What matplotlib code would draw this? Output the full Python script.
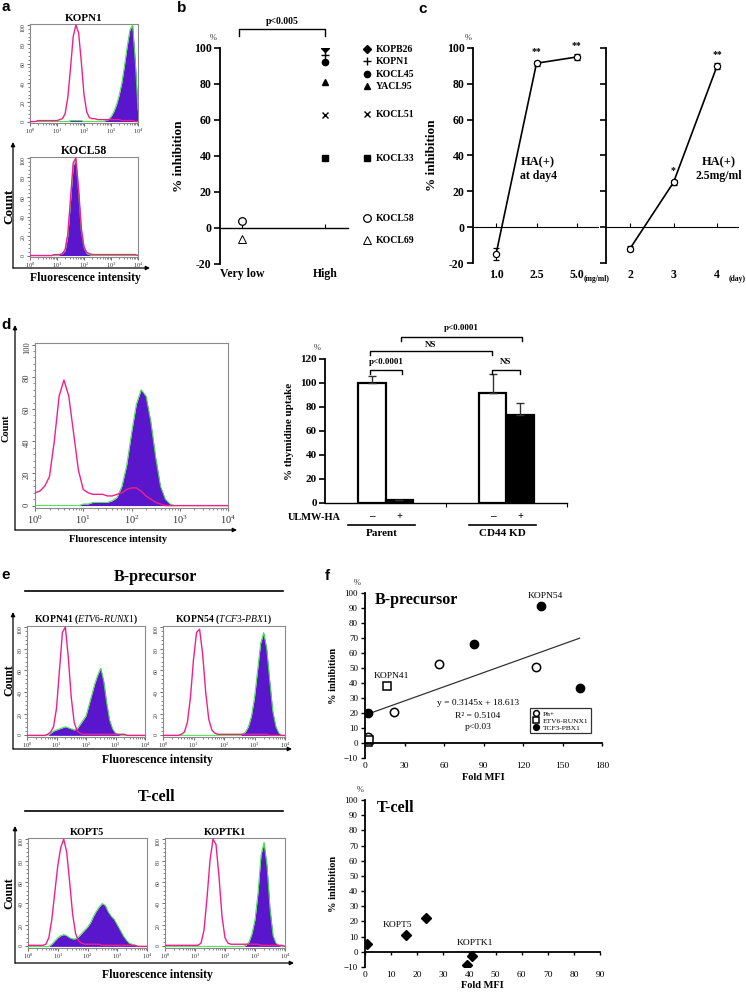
import numpy as np
import matplotlib
matplotlib.use('Agg')
import matplotlib.pyplot as plt
from matplotlib.ticker import MultipleLocator, LogLocator, NullFormatter

W, H = 746, 998
plt.rcParams['font.family'] = ['Liberation Serif', 'DejaVu Sans']
plt.rcParams['mathtext.fontset'] = 'custom'
plt.rcParams['mathtext.rm'] = 'Liberation Serif'
plt.rcParams['mathtext.it'] = 'Liberation Serif:italic'
plt.rcParams['mathtext.bf'] = 'Liberation Serif:bold'

PURPLE = '#5a16cc'
GREEN = '#3ee63e'
MAGENTA = '#f0208a'

# ---------------- data ----------------
decade_bins = np.linspace(0.0, 4.0, 41)   # log10 fluorescence grid

a_kopn1_ctrl = [0,0,0,1,1,1,1,1,1,1, 1,2,3,8,25,55,88,100,92,62, 28,10,4,3,3,2,2,2,2,2, 2,2,2,2,1,1,1,1,1,0, 0]
a_kopn1_stain = [0,0,0,0,0,0,0,0,0,0, 0,0,0,0,0,1,1,1,1,1, 0,0,0,0,0,0,0,0,1,2, 5,10,17,27,40,58,78,95,100,62, 12]
a_kocl58_ctrl = [0,0,0,0,0,0,0,0,0,1, 1,1,2,6,22,58,95,100,68,28, 9,3,2,1,1,1,1,1,1,1, 1,1,1,1,1,1,1,1,1,1, 0]
a_kocl58_stain = [0,0,0,0,0,0,0,0,0,0, 0,1,2,5,20,55,92,98,65,25, 8,2,1,0,0,0,0,0,0,0, 0,0,0,0,0,0,0,0,0,0, 0]
d_ctrl = [8,9,12,18,40,68,78,68,45,22, 10,8,7,7,7,6,6,7,8,10, 11,11,9,6,4,2,1,0,0,0, 0,0,0,0,0,0,0,0,0,0, 0]
d_stain = [0,0,0,0,0,0,0,0,0,0, 1,1,2,2,2,2,3,5,12,25, 45,63,72,68,52,30,12,4,1,0, 0,0,0,0,0,0,0,0,0,0, 0]
e_kopn41_ctrl = [0,0,0,0,0,0,0,1,3,8, 25,60,95,100,72,35,12,4,2,1, 1,1,1,1,1,1,1,1,1,1, 1,1,1,1,0,0,0,0,0,0, 0]
e_kopn41_stain = [0,0,0,0,0,0,0,0,2,4, 5,6,7,8,7,6,5,6,10,14, 18,28,38,48,56,62,50,30,14,6, 2,1,0,0,0,0,0,0,0,0, 0]
e_kopn54_ctrl = [0,0,0,0,0,0,1,3,12,35, 70,95,98,75,40,15,5,2,1,1, 1,1,1,1,1,1,1,1,1,1, 1,1,1,1,1,0,0,0,0,0, 0]
e_kopn54_stain = [0,0,0,0,0,0,0,0,0,0, 0,0,0,0,0,0,0,0,0,0, 0,0,0,0,0,0,1,3,8,18, 35,60,85,95,80,50,22,8,2,0, 0]
t_kopt5_ctrl = [1,1,1,1,1,1,2,8,25,50, 75,92,100,88,60,30,12,5,3,2, 2,2,2,2,2,1,1,1,1,1, 1,1,1,1,1,1,1,0,0,0, 0]
t_kopt5_stain = [0,0,0,0,0,0,0,0,2,5, 8,10,11,10,8,7,7,9,12,15, 18,22,28,33,37,40,38,32,28,25, 20,15,10,6,3,2,1,0,0,0, 0]
t_koptk1_ctrl = [1,1,1,1,1,1,1,1,1,1, 1,1,3,15,45,80,100,95,65,28, 8,3,2,2,2,2,2,2,2,2, 2,2,1,1,1,1,1,1,1,1, 0]
t_koptk1_stain = [0,0,0,0,0,0,0,0,0,0, 0,0,0,0,0,0,0,0,0,0, 0,0,0,0,0,0,0,1,4,12, 25,50,85,97,75,35,10,3,1,0, 0]

b_groups = ['Very low', 'High']
b_high_names = ['KOPB26', 'KOPN1', 'KOCL45', 'YACL95', 'KOCL51', 'KOCL33']
b_high_vals = [100, 96, 92, 81, 63, 39]
b_low_names = ['KOCL58', 'KOCL69']
b_low_vals = [4, -6]

c_conc_labels = ['1.0', '2.5', '5.0']
c_conc_vals = [-15, 91.5, 95]
c_conc_err = [3.5, 1.5, 1.5]
c_conc_stars = ['', '**', '**']
c_days = [2, 3, 4]
c_day_vals = [-12, 25, 90]
c_day_err = [1.5, 1.5, 1.5]
c_day_stars = ['', '*', '**']

d_groups = ['Parent', 'CD44 KD']
d_minus_vals = [100, 91.5]
d_minus_err = [6, 16]
d_plus_vals = [2.5, 73.5]
d_plus_err = [0, 10]

f_ph_x = [1, 2, 22, 56, 130]
f_ph_y = [3, 4, 20.5, 52.5, 51]
f_etv_x = [2, 3, 17]
f_etv_y = [1, 2, 38]
f_tcf_x = [2.5, 83, 134, 163]
f_tcf_y = [20, 65.8, 91.3, 37]
f_fit_slope = 0.3145
f_fit_icpt = 18.613
f_fit_range = [2, 163]
t_x = [0.6, 15.7, 23.2, 41.1, 39.2]
t_y = [5, 11, 22.5, -2.5, -8.7]

# ---------------- figure ----------------
fig = plt.figure(figsize=(W / 100, H / 100), dpi=100)


def add_ax(x0, y0, x1, y1):
    ax = fig.add_axes([x0 / W, 1 - y1 / H, (x1 - x0) / W, (y1 - y0) / H])
    ax.patch.set_alpha(0)
    return ax


def histo(box, ctrl, stain, title=None, title_fs=7.5, xfs=4.5, yfs=4.2):
    ax = add_ax(*box)
    xs = 10.0 ** decade_bins
    ax.fill_between(xs, stain, 0, color=PURPLE, lw=0, zorder=2)
    ax.plot(xs, stain, color=GREEN, lw=0.7, zorder=3)
    ax.plot(xs, ctrl, color=MAGENTA, lw=1.0, zorder=4)
    ax.set_xscale('log')
    ax.set_xlim(1, 1e4)
    ax.set_ylim(-1.5, 101)
    ax.xaxis.set_major_locator(LogLocator(base=10, numticks=10))
    ax.xaxis.set_minor_locator(LogLocator(base=10, subs=np.arange(2, 10), numticks=50))
    ax.xaxis.set_minor_formatter(NullFormatter())
    ax.set_yticks(np.arange(0, 101, 20))
    ax.yaxis.set_minor_locator(MultipleLocator(4))
    ax.tick_params(axis='both', which='major', length=2, width=0.6, pad=1,
                   colors='#555555', labelcolor='#333333')
    ax.tick_params(axis='x', labelsize=xfs)
    ax.tick_params(axis='y', labelsize=yfs, labelrotation=90)
    ax.tick_params(which='minor', length=1.2, width=0.5, colors='#555555')
    for s in ax.spines.values():
        s.set_color('#8a8a8a')
        s.set_linewidth(0.8)
    if title:
        ax.set_title(title, fontsize=title_fs, fontweight='bold', pad=2)
    return ax


# ---- panel a ----
histo((30, 24, 138, 123), a_kopn1_ctrl, a_kopn1_stain, 'KOPN1', 8)
histo((30, 157, 138, 257), a_kocl58_ctrl, a_kocl58_stain, 'KOCL58', 8.5)

# ---- panel b ----
axb = add_ax(220, 48, 348, 264)
high_styles = [dict(marker='D', ms=4, mfc='black', mec='black'),
               dict(marker='+', ms=6, mec='black', mew=1.0),
               dict(marker='o', ms=4.5, mfc='black', mec='black'),
               dict(marker='^', ms=5, mfc='black', mec='black'),
               dict(marker='x', ms=5, mec='black', mew=1.0),
               dict(marker='s', ms=4.5, mfc='black', mec='black')]
low_styles = [dict(marker='o', ms=5.5, mfc='white', mec='black', mew=0.9),
              dict(marker='^', ms=5.5, mfc='white', mec='black', mew=0.7)]
for v, st in zip(b_high_vals, high_styles):
    axb.plot([1], [v], ls='none', **st)
for v, st in zip(b_low_vals, low_styles):
    axb.plot([0], [v], ls='none', **st)
axb.set_xlim(-0.265, 1.277)
axb.set_ylim(-20, 100)
axb.spines['top'].set_visible(False)
axb.spines['right'].set_visible(False)
axb.spines['bottom'].set_position(('data', 0))
axb.spines['left'].set_linewidth(1.3)
axb.spines['bottom'].set_linewidth(1.0)
axb.set_yticks(np.arange(-20, 101, 20), [str(v) for v in range(-20, 101, 20)],
               fontweight='bold', fontsize=8.5)
axb.tick_params(axis='y', direction='out', length=4, width=1.2, pad=2)
axb.set_xticks([0, 1])
axb.tick_params(axis='x', direction='in', length=3, labelbottom=False)
secb = axb.secondary_xaxis('bottom')
secb.set_xticks([0, 1], b_groups, fontweight='bold', fontsize=8.5)
secb.tick_params(length=0, pad=3)
secb.spines['bottom'].set_visible(False)
axb.set_ylabel('% inhibition', fontweight='bold', fontsize=9.5, labelpad=6)


# ---- panel c ----
def c_axis(box, xs, vals, err, stars, xlim, ticklabels, show_ylabel):
    ax = add_ax(*box)
    ax.errorbar(xs, vals, yerr=err, fmt='-o', color='black', mfc='white', mec='black',
                ms=4.5, lw=1.2, mew=0.9, capsize=2, elinewidth=0.8)
    for x, v, e, s in zip(xs, vals, err, stars):
        if s:
            ax.text(x, v + e + 2.5, s, ha='center', va='bottom', fontsize=7, fontweight='bold')
    ax.set_xlim(*xlim)
    ax.set_ylim(-20, 100)
    ax.spines['top'].set_visible(False)
    ax.spines['right'].set_visible(False)
    ax.spines['bottom'].set_position(('data', 0))
    ax.spines['left'].set_linewidth(1.3)
    ax.set_yticks(np.arange(-20, 101, 20))
    if show_ylabel:
        ax.set_yticklabels([str(v) for v in range(-20, 101, 20)], fontweight='bold', fontsize=8.5)
        ax.set_ylabel('% inhibition', fontweight='bold', fontsize=9.5, labelpad=6)
    else:
        ax.set_yticklabels([])
    ax.tick_params(axis='y', direction='out', length=4, width=1.2, pad=2)
    ax.set_xticks(xs)
    ax.tick_params(axis='x', direction='in', length=3, labelbottom=False)
    sec = ax.secondary_xaxis('bottom')
    sec.set_xticks(xs, ticklabels, fontweight='bold', fontsize=8.5)
    sec.tick_params(length=0, pad=4)
    sec.spines['bottom'].set_visible(False)
    return ax


c_pos = list(range(len(c_conc_labels)))
axc1 = c_axis((473, 48, 598, 263), c_pos, c_conc_vals, c_conc_err, c_conc_stars,
              (-0.57, 2.52), c_conc_labels, True)
axc2 = c_axis((606, 48, 738, 263), c_days, c_day_vals, c_day_err, c_day_stars,
              (1.45, 4.48), [str(d) for d in c_days], False)
axc1.text(1.04, 36, 'HA(+)', ha='center', va='center', fontsize=9, fontweight='bold')
axc1.text(1.04, 28.5, 'at day4', ha='center', va='center', fontsize=8.5, fontweight='bold')
axc2.text(4.03, 36, 'HA(+)', ha='center', va='center', fontsize=9, fontweight='bold')
axc2.text(4.03, 28.5, '2.5mg/ml', ha='center', va='center', fontsize=8.5, fontweight='bold')

# ---- panel d ----
axdh = histo((35, 343, 228, 508), d_ctrl, d_stain, None, xfs=7.5, yfs=6)
axdh.tick_params(axis='x', which='major', pad=2)

axd = add_ax(325, 359, 567, 503)
gx = np.arange(len(d_groups))
bw = 0.2314
axd.bar(gx - bw / 2, d_minus_vals, bw, color='white', edgecolor='black', lw=1.6,
        yerr=[[0, 0], d_minus_err], error_kw=dict(ecolor='#333333', elinewidth=1.0, capsize=3, capthick=1.0))
axd.bar(gx + bw / 2, d_plus_vals, bw, color='black', edgecolor='black', lw=1.6,
        yerr=[[0, 0], d_plus_err], error_kw=dict(ecolor='#333333', elinewidth=1.0, capsize=3, capthick=1.0))
axd.set_xlim(-0.5, 1.5)
axd.set_ylim(0, 120)
axd.spines['top'].set_visible(False)
axd.spines['right'].set_visible(False)
axd.spines['left'].set_linewidth(1.3)
axd.spines['bottom'].set_linewidth(1.0)
axd.set_yticks(np.arange(0, 121, 20), [str(v) for v in range(0, 121, 20)], fontweight='bold', fontsize=8)
axd.tick_params(axis='y', direction='out', length=4, width=1.2, pad=2)
axd.set_xticks([0.5, 1.5])
axd.tick_params(axis='x', direction='out', length=3, labelbottom=False)
axd.set_ylabel('% thymidine uptake', fontweight='bold', fontsize=8, labelpad=4)
tx = axd.get_xaxis_transform()
for g in gx:
    axd.text(g - bw / 2, -0.097, '\u2013', transform=tx, ha='center', va='center', fontsize=8, fontweight='bold')
    axd.text(g + bw / 2, -0.097, '+', transform=tx, ha='center', va='center', fontsize=7.5, fontweight='bold')
    axd.plot([g - 0.31, g + 0.24], [-0.153, -0.153], transform=tx, color='black', lw=1.2, clip_on=False)
    axd.text(g - 0.03, -0.215, d_groups[g], transform=tx, ha='center', va='center', fontsize=8, fontweight='bold')

# ---- panel e ----
histo((27, 626, 145, 737), e_kopn41_ctrl, e_kopn41_stain, r'KOPN41 ($\it{ETV6}$-$\it{RUNX1}$)', 7)
histo((163, 626, 285, 737), e_kopn54_ctrl, e_kopn54_stain, r'KOPN54 ($\it{TCF3}$-$\it{PBX1}$)', 7)
histo((28, 838, 147, 948), t_kopt5_ctrl, t_kopt5_stain, 'KOPT5', 7.5)
histo((165, 838, 285, 948), t_koptk1_ctrl, t_koptk1_stain, 'KOPTK1', 7.5)


# ---- panel f ----
def f_axis(box, xmax, xstep):
    ax = add_ax(*box)
    ax.set_xlim(0, xmax)
    ax.set_ylim(-10, 100)
    ax.spines['top'].set_visible(False)
    ax.spines['right'].set_visible(False)
    ax.spines['bottom'].set_position(('data', 0))
    ax.spines['left'].set_linewidth(1.3)
    ax.spines['bottom'].set_linewidth(1.3)
    ax.set_yticks(np.arange(-10, 101, 10))
    ax.tick_params(axis='y', direction='out', length=3, width=1.0, pad=2, labelsize=6.5)
    ticks = np.arange(0, xmax + 1, xstep)
    ax.set_xticks(ticks)
    ax.tick_params(axis='x', direction='out', length=2.5, width=1.0, labelbottom=False)
    sec = ax.secondary_xaxis('bottom')
    sec.set_xticks(ticks, [str(int(t)) for t in ticks], fontsize=6.8)
    sec.tick_params(length=0, pad=3)
    sec.spines['bottom'].set_visible(False)
    ax.set_ylabel('% inhibition', fontweight='bold', fontsize=7.5, labelpad=4)
    return ax, sec


axf1, secf1 = f_axis((365, 593, 602, 758), 180, 30)
fx = np.array(f_fit_range)
axf1.plot(fx, f_fit_slope * fx + f_fit_icpt, color='#333333', lw=0.9)
axf1.plot(f_ph_x, f_ph_y, ls='none', marker='o', ms=6, mfc='white', mec='black', mew=1.1, label='Ph+')
axf1.plot(f_etv_x, f_etv_y, ls='none', marker='s', ms=6, mfc='white', mec='black', mew=1.1, label='ETV6-RUNX1')
axf1.plot(f_tcf_x, f_tcf_y, ls='none', marker='o', ms=6, mfc='black', mec='black', label='TCF3-PBX1')
axf1.text(0.04, 0.955, 'B-precursor', transform=axf1.transAxes, fontsize=11.5, fontweight='bold', va='center')
axf1.text(137, 98, 'KOPN54', ha='center', va='center', fontsize=6.8)
axf1.text(19.7, 45, 'KOPN41', ha='center', va='center', fontsize=6.8)
axf1.text(85.8, 26.7, 'y = 0.3145x + 18.613', ha='center', va='center', fontsize=6.8)
axf1.text(85.8, 18, 'R\u00b2 = 0.5104', ha='center', va='center', fontsize=6.8)
axf1.text(85.8, 10.5, 'p<0.03', ha='center', va='center', fontsize=6.8)
leg = axf1.legend(loc='upper left', bbox_to_anchor=(0.696, 0.305), fontsize=5.4, frameon=True,
                  fancybox=False, edgecolor='black', borderpad=0.35, handlelength=0.9,
                  handletextpad=0.5, labelspacing=0.12, markerscale=0.7, borderaxespad=0)
leg.get_frame().set_linewidth(0.9)
secf1.set_xlabel('Fold MFI', fontweight='bold', fontsize=7.5, labelpad=2)

axf2, secf2 = f_axis((365, 800, 600, 967), 90, 10)
axf2.plot(t_x, t_y, ls='none', marker='D', ms=4.8, mfc='black', mec='black')
axf2.text(0.05, 0.95, 'T-cell', transform=axf2.transAxes, fontsize=11.5, fontweight='bold', va='center')
axf2.text(12.6, 17.5, 'KOPT5', ha='center', va='center', fontsize=6.8)
axf2.text(42.1, 5.7, 'KOPTK1', ha='center', va='center', fontsize=6.8)
secf2.set_xlabel('Fold MFI', fontweight='bold', fontsize=7.5, labelpad=1)

# ---------------- overlay annotations (pixel coords) ----------------
ov = fig.add_axes([0, 0, 1, 1], zorder=20)
ov.set_xlim(0, W)
ov.set_ylim(H, 0)
ov.axis('off')
ov.patch.set_alpha(0)

SANS = 'Liberation Sans'
for lab, x, y in [('a', 1, 7), ('b', 177, 8), ('c', 418, 9), ('d', 1, 325), ('e', 1, 575), ('f', 325, 576)]:
    ov.text(x, y, lab, fontsize=11, fontweight='bold', family=SANS, va='center', ha='left')


def l_arrows(x, ybot, ytop, xright):
    ap = dict(arrowstyle='-|>', lw=0.9, color='black', mutation_scale=6, shrinkA=0, shrinkB=0)
    ov.annotate('', xy=(x, ytop), xytext=(x, ybot), arrowprops=ap)
    ov.annotate('', xy=(xright, ybot), xytext=(x, ybot), arrowprops=ap)


l_arrows(13, 268, 142, 150)
l_arrows(15, 530, 325, 237)
l_arrows(13, 749, 612, 292)
l_arrows(15, 963, 826, 294)

ov.text(9, 206, 'Count', rotation=90, ha='center', va='center', fontsize=9.5, fontweight='bold')
ov.text(85, 278, 'Fluorescence intensity', ha='center', va='center', fontsize=8.5, fontweight='bold')
ov.text(6, 428, 'Count', rotation=90, ha='center', va='center', fontsize=7.5, fontweight='bold')
ov.text(118, 540, 'Fluorescence intensity', ha='center', va='center', fontsize=7.5, fontweight='bold')
ov.text(9, 680, 'Count', rotation=90, ha='center', va='center', fontsize=8.5, fontweight='bold')
ov.text(157, 760, 'Fluorescence intensity', ha='center', va='center', fontsize=8.5, fontweight='bold')
ov.text(9, 893, 'Count', rotation=90, ha='center', va='center', fontsize=8.5, fontweight='bold')
ov.text(157, 975, 'Fluorescence intensity', ha='center', va='center', fontsize=8.5, fontweight='bold')

# panel b extras
ov.plot([239, 239, 325, 325], [36, 29, 29, 36], color='black', lw=1.0)
ov.text(282, 21, 'p<0.005', ha='center', va='center', fontsize=7, fontweight='bold')
ov.text(213, 38, '%', ha='center', va='center', fontsize=6, color='#333333')
leg_y = [49, 61, 74, 86, 114, 158, 218, 240]
leg_names = b_high_names + b_low_names
for y, name, st in zip(leg_y, leg_names, high_styles + low_styles):
    ov.plot([367], [y], ls='none', **st)
    ov.text(376, y, name, ha='left', va='center', fontsize=7, fontweight='bold')

# panel c extras
ov.text(468, 38, '%', ha='center', va='center', fontsize=6, color='#333333')
ov.text(597, 279, '(mg/ml)', ha='center', va='center', fontsize=5.5, fontweight='bold')
ov.text(737, 279, '(day)', ha='center', va='center', fontsize=5.5, fontweight='bold')

# panel d extras
ov.text(317, 348, '%', ha='center', va='center', fontsize=6, color='#333333')
ov.text(341, 517, 'ULMW-HA', ha='right', va='center', fontsize=7.5, fontweight='bold')


def bracket(x0, x1, y, text, ty):
    ov.plot([x0, x0, x1, x1], [y + 4, y, y, y + 4], color='black', lw=1.0)
    ov.text((x0 + x1) / 2, ty, text, ha='center', va='center', fontsize=6.5, fontweight='bold')


bracket(370, 402, 370, 'p<0.0001', 362)
bracket(492, 520, 370, 'NS', 362)
bracket(370, 492, 351, 'NS', 345)
bracket(401, 522, 337, 'p<0.0001', 328)

# panel e extras
ov.text(155, 577, 'B-precursor', ha='center', va='center', fontsize=11.5, fontweight='bold')
ov.plot([25, 283], [591, 591], color='black', lw=1.2)
ov.text(157, 797, 'T-cell', ha='center', va='center', fontsize=11.5, fontweight='bold')
ov.plot([25, 283], [811, 811], color='black', lw=1.2)

# panel f extras
ov.text(357, 583, '%', ha='center', va='center', fontsize=6, color='#333333')
ov.text(360, 790, '%', ha='center', va='center', fontsize=6, color='#333333')

fig.savefig('out.png', dpi=100)
